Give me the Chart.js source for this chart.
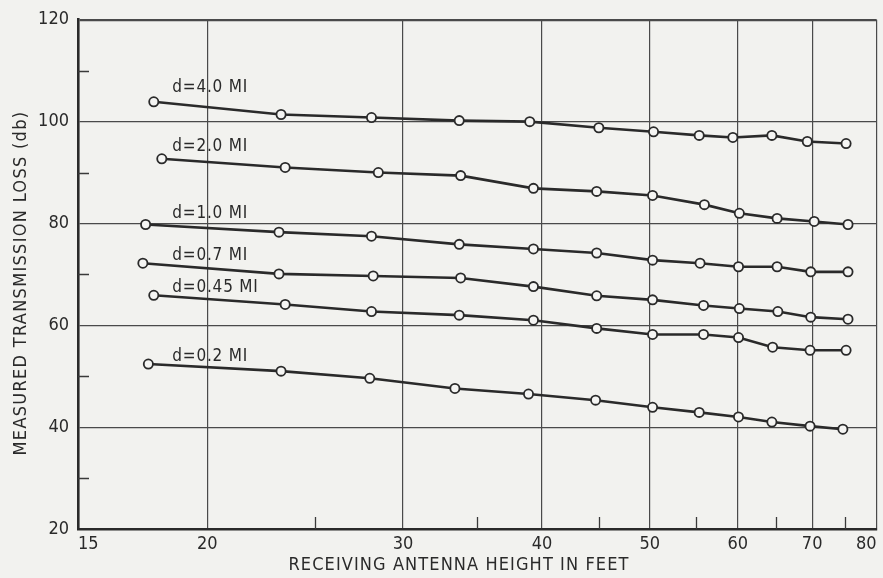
<!DOCTYPE html>
<html><head><meta charset="utf-8">
<script src="https://cdn.jsdelivr.net/npm/chart.js@4/dist/chart.umd.min.js"></script>
<style>
html,body{margin:0;padding:0;background:#f2f2ef;overflow:hidden;}
canvas{display:block;}
</style></head><body>
<canvas id="c" width="883" height="578" style="width:883px;height:578px"></canvas>
<script>
// ---- data ----
const seriesLabels = ["d=4.0 MI", "d=2.0 MI", "d=1.0 MI", "d=0.7 MI", "d=0.45 MI", "d=0.2 MI"];

const heights_d40 = [17.9, 23.3, 28.1, 33.7, 39.0, 45.0, 50.4, 55.4, 59.4, 64.4, 69.3, 75.1];
const loss_d40    = [103.9, 101.4, 100.8, 100.2, 100.0, 98.8, 98.0, 97.3, 96.9, 97.3, 96.1, 95.7];

const heights_d20 = [18.2, 23.5, 28.5, 33.8, 39.3, 44.8, 50.3, 56.0, 60.2, 65.1, 70.3, 75.4];
const loss_d20    = [92.7, 91.0, 90.0, 89.4, 86.9, 86.3, 85.5, 83.7, 82.0, 81.0, 80.4, 79.8];

const heights_d10 = [17.6, 23.2, 28.1, 33.7, 39.3, 44.8, 50.3, 55.5, 60.1, 65.1, 69.8, 75.4];
const loss_d10    = [79.8, 78.3, 77.5, 75.9, 75.0, 74.2, 72.8, 72.2, 71.5, 71.5, 70.5, 70.5];

const heights_d07 = [17.5, 23.2, 28.2, 33.8, 39.3, 44.8, 50.3, 55.9, 60.2, 65.2, 69.8, 75.4];
const loss_d07    = [72.2, 70.1, 69.7, 69.3, 67.6, 65.8, 65.0, 63.9, 63.3, 62.7, 61.6, 61.2];

const heights_d045 = [17.9, 23.5, 28.1, 33.7, 39.3, 44.8, 50.3, 55.9, 60.1, 64.5, 69.7, 75.1];
const loss_d045    = [65.9, 64.1, 62.7, 62.0, 61.0, 59.4, 58.2, 58.2, 57.6, 55.7, 55.1, 55.1];

const heights_d02 = [17.7, 23.3, 28.0, 33.4, 38.9, 44.7, 50.3, 55.4, 60.1, 64.4, 69.7, 74.6];
const loss_d02    = [52.4, 51.0, 49.6, 47.6, 46.5, 45.3, 43.9, 42.9, 42.0, 41.0, 40.2, 39.6];

const xTickValues = [15, 20, 30, 40, 50, 60, 70, 80];
const xTickLabels = ["15", "20", "30", "40", "50", "60", "70", "80"];
const xMinorTicks = [25, 35, 45, 55, 65, 75];
const yTickValues = [20, 40, 60, 80, 100, 120];
const yMinorTicks = [30, 50, 70, 90, 110];

const xTitle = "RECEIVING ANTENNA HEIGHT IN FEET";
const yTitle = "MEASURED TRANSMISSION LOSS (db)";

// label anchors (data coordinates: left edge x, vertical centre y)
const labelAnchorX = [18.6, 18.6, 18.6, 18.6, 18.6, 18.6];
const labelAnchorY = [106.7, 95.1, 82.0, 73.7, 67.5, 53.9];

// ---- build chart ----
const INK = '#2a2a2a';
const FONT = '"DejaVu Sans Condensed", "DejaVu Sans", "Liberation Sans Narrow", sans-serif';
const xs = [heights_d40, heights_d20, heights_d10, heights_d07, heights_d045, heights_d02];
const ys = [loss_d40, loss_d20, loss_d10, loss_d07, loss_d045, loss_d02];

const datasets = seriesLabels.map((lab, i) => ({
  label: lab,
  data: xs[i].map((x, j) => ({x: x, y: ys[i][j]})),
  borderColor: INK,
  borderWidth: 2.6,
  pointRadius: 4.6,
  pointHoverRadius: 4.6,
  pointBorderWidth: 1.8,
  pointBorderColor: INK,
  pointBackgroundColor: '#f5f5f3',
  tension: 0,
  fill: false,
  clip: false
}));

const overlay = {
  id: 'overlay',
  beforeDatasetsDraw(chart) {
    const {ctx, chartArea: a, scales: {x, y}} = chart;
    ctx.save();
    ctx.strokeStyle = '#3a3a3a';
    ctx.lineWidth = 1.3;
    ctx.beginPath();
    yMinorTicks.forEach(v => {
      const py = Math.round(y.getPixelForValue(v)) + 0.5;
      ctx.moveTo(a.left, py); ctx.lineTo(a.left + 11, py);
    });
    xMinorTicks.forEach(v => {
      const px = Math.round(x.getPixelForValue(v)) + 0.5;
      ctx.moveTo(px, a.bottom); ctx.lineTo(px, a.bottom - 12);
    });
    ctx.stroke();
    ctx.restore();
  },
  afterDatasetsDraw(chart) {
    const {ctx, chartArea: a, scales: {x, y}} = chart;
    ctx.save();
    ctx.fillStyle = INK;
    ctx.font = '17px ' + FONT;
    try { ctx.letterSpacing = '0.8px'; } catch (e) {}
    ctx.textAlign = 'left';
    ctx.textBaseline = 'middle';
    seriesLabels.forEach((t, i) => {
      ctx.fillText(t, x.getPixelForValue(labelAnchorX[i]), y.getPixelForValue(labelAnchorY[i]));
    });
    // x axis title
    ctx.font = '18px ' + FONT;
    try { ctx.letterSpacing = '1.1px'; } catch (e) {}
    ctx.textAlign = 'center';
    ctx.fillText(xTitle, 459, 565);
    // y axis title
    ctx.translate(21, 283);
    ctx.rotate(-Math.PI / 2);
    ctx.font = '18px ' + FONT;
    try { ctx.letterSpacing = '1.3px'; } catch (e) {}
    ctx.fillText(yTitle, 0, 0);
    ctx.restore();
  }
};

new Chart(document.getElementById('c'), {
  type: 'line',
  data: {datasets},
  options: {
    responsive: false,
    animation: false,
    events: [],
    layout: {padding: {top: 19, right: 1, left: 0, bottom: 0}},
    plugins: {legend: {display: false}, tooltip: {enabled: false}},
    scales: {
      x: {
        type: 'logarithmic',
        min: 15.3,
        max: 80,
        afterBuildTicks: s => { s.ticks = xTickValues.map(v => ({value: Math.max(v, s.min)})); },
        afterFit: s => { s.height = 49; },
        ticks: {
          color: INK,
          font: {family: FONT, size: 18},
          padding: 5,
          align: 'inner',
          maxRotation: 0,
          autoSkip: false,
          callback: (v, i) => xTickLabels[i]
        },
        grid: {color: '#4a4a4a', lineWidth: 1.2, drawTicks: false},
        border: {color: INK, width: 2.6}
      },
      y: {
        type: 'linear',
        min: 20,
        max: 120,
        afterBuildTicks: s => { s.ticks = yTickValues.map(v => ({value: v})); },
        afterFit: s => { s.width = 78; },
        ticks: {
          color: INK,
          font: {family: FONT, size: 18},
          padding: 9,
          callback: v => String(v)
        },
        grid: {
          color: '#4a4a4a',
          lineWidth: c => (c.tick && c.tick.value === 120) ? 2.2 : 1.2,
          drawTicks: false
        },
        border: {color: INK, width: 2.6}
      }
    }
  },
  plugins: [overlay]
});
</script>
</body></html>
